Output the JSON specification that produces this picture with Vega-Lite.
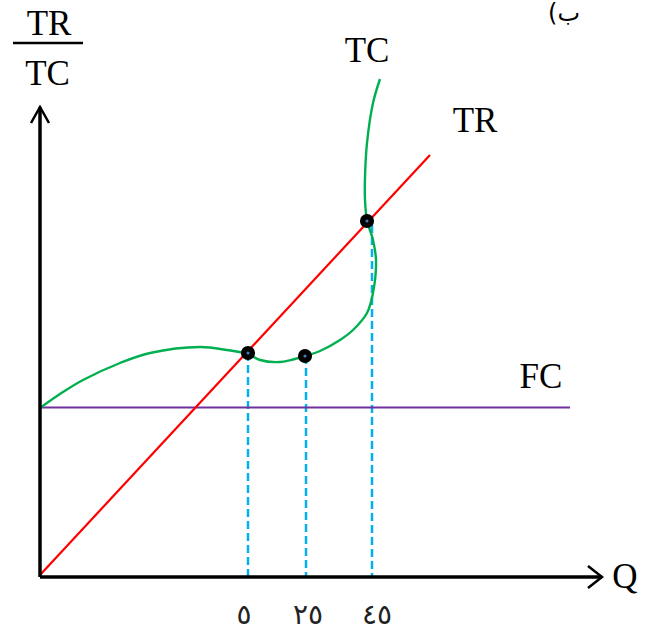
{
  "$schema": "https://vega.github.io/schema/vega-lite/v6.json",
  "width": 654,
  "height": 634,
  "padding": 0,
  "autosize": {"type": "none"},
  "background": "white",
  "config": {"view": {"stroke": null}},
  "datasets": {
    "axes": [
      {"seg": "y", "k": 0, "q": 0, "v": 0},
      {"seg": "y", "k": 1, "q": 0, "v": 47},
      {"seg": "x", "k": 0, "q": 0, "v": 0},
      {"seg": "x", "k": 1, "q": 56.2, "v": 0}
    ],
    "arrows": [
      {"seg": "ya", "k": 0, "q": -0.9, "v": 45.4},
      {"seg": "ya", "k": 1, "q": 0, "v": 47},
      {"seg": "ya", "k": 2, "q": 0.9, "v": 45.4},
      {"seg": "xa", "k": 0, "q": 54.8, "v": 1.1},
      {"seg": "xa", "k": 1, "q": 56.2, "v": 0},
      {"seg": "xa", "k": 2, "q": 54.8, "v": -1.1},
      {"seg": "frac", "k": 0, "q": -2.7, "v": 53.4},
      {"seg": "frac", "k": 1, "q": 4.3, "v": 53.4}
    ],
    "fc": [
      {"q": 0, "v": 16.95},
      {"q": 53, "v": 16.95}
    ],
    "tr": [
      {"q": 0, "v": 0.2},
      {"q": 39, "v": 42.2}
    ],
    "tc": [
      {"k": 0, "q": 0, "v": 16.9},
      {"k": 1, "q": 2, "v": 18.3},
      {"k": 2, "q": 4.3, "v": 19.7},
      {"k": 3, "q": 8, "v": 21.4},
      {"k": 4, "q": 11, "v": 22.4},
      {"k": 5, "q": 16, "v": 23},
      {"k": 6, "q": 18.7, "v": 22.7},
      {"k": 7, "q": 20.8, "v": 22.3},
      {"k": 8, "q": 22, "v": 21.7},
      {"k": 9, "q": 24, "v": 21.5},
      {"k": 10, "q": 26.5, "v": 22.1},
      {"k": 11, "q": 28, "v": 22.6},
      {"k": 12, "q": 30, "v": 23.7},
      {"k": 13, "q": 31.3, "v": 24.7},
      {"k": 14, "q": 32.7, "v": 26.4},
      {"k": 15, "q": 33.3, "v": 28.4},
      {"k": 16, "q": 33.6, "v": 31.7},
      {"k": 17, "q": 33.3, "v": 33.7},
      {"k": 18, "q": 32.7, "v": 35.7},
      {"k": 19, "q": 32.5, "v": 37.7},
      {"k": 20, "q": 32.5, "v": 40},
      {"k": 21, "q": 32.7, "v": 43.4},
      {"k": 22, "q": 33.3, "v": 47.4},
      {"k": 23, "q": 34, "v": 49.8}
    ],
    "drops": [
      {"line": "a", "q": 20.8, "v": 22.4},
      {"line": "a", "q": 20.8, "v": 0},
      {"line": "b", "q": 26.6, "v": 22.1},
      {"line": "b", "q": 26.6, "v": 0},
      {"line": "c", "q": 33.2, "v": 35.2},
      {"line": "c", "q": 33.2, "v": 0}
    ],
    "dots": [
      {"q": 20.8, "v": 22.4},
      {"q": 26.5, "v": 22.1},
      {"q": 32.7, "v": 35.6}
    ],
    "serifLabels": [
      {"text": "TR", "q": 0.9, "v": 54.2},
      {"text": "TC", "q": 0.75, "v": 49.2},
      {"text": "TC", "q": 32.7, "v": 51.5},
      {"text": "TR", "q": 43.5, "v": 44.5},
      {"text": "FC", "q": 50.1, "v": 18.9},
      {"text": "Q", "q": 58.5, "v": -1.1}
    ],
    "digitLabels": [
      {"text": "٥", "q": 20.4, "v": -4.7},
      {"text": "٢٥", "q": 26.8, "v": -4.7},
      {"text": "٤٥", "q": 33.7, "v": -4.7}
    ],
    "cornerLabel": [
      {"text": "(ب", "q": 52.4, "v": 55.6}
    ]
  },
  "encoding": {
    "x": {"field": "q", "type": "quantitative", "scale": {"domain": [-4, 61.4], "nice": false, "zero": false}, "axis": null},
    "y": {"field": "v", "type": "quantitative", "scale": {"domain": [-5.7, 57.7], "nice": false, "zero": false}, "axis": null}
  },
  "layer": [
    {
      "data": {"name": "drops"},
      "mark": {"type": "line", "color": "#00b0f0", "strokeWidth": 2.5, "strokeDash": [8, 4]},
      "encoding": {"detail": {"field": "line"}}
    },
    {
      "data": {"name": "fc"},
      "mark": {"type": "line", "color": "#7030a0", "strokeWidth": 2.2}
    },
    {
      "data": {"name": "tr"},
      "mark": {"type": "line", "color": "#ff0000", "strokeWidth": 2.2}
    },
    {
      "data": {"name": "tc"},
      "mark": {"type": "line", "color": "#00b050", "strokeWidth": 2.4, "interpolate": "catmull-rom"},
      "encoding": {"order": {"field": "k", "type": "quantitative"}}
    },
    {
      "data": {"name": "axes"},
      "mark": {"type": "line", "color": "black", "strokeWidth": 3.5},
      "encoding": {
        "detail": {"field": "seg"},
        "order": {"field": "k", "type": "quantitative"}
      }
    },
    {
      "data": {"name": "arrows"},
      "mark": {"type": "line", "color": "black", "strokeWidth": 2.5},
      "encoding": {
        "detail": {"field": "seg"},
        "order": {"field": "k", "type": "quantitative"}
      }
    },
    {
      "data": {"name": "dots"},
      "mark": {"type": "point", "filled": true, "color": "black", "opacity": 1, "size": 200}
    },
    {
      "data": {"name": "dots"},
      "mark": {"type": "point", "filled": true, "color": "#4a7ab8", "opacity": 1, "size": 10}
    },
    {
      "data": {"name": "serifLabels"},
      "mark": {"type": "text", "align": "center", "baseline": "alphabetic", "color": "black", "font": "Liberation Serif", "fontSize": 35},
      "encoding": {"text": {"field": "text"}}
    },
    {
      "data": {"name": "digitLabels"},
      "mark": {"type": "text", "align": "center", "baseline": "alphabetic", "color": "#222222", "font": "DejaVu Sans", "fontSize": 28},
      "encoding": {"text": {"field": "text"}}
    },
    {
      "data": {"name": "cornerLabel"},
      "mark": {"type": "text", "align": "center", "baseline": "alphabetic", "color": "black", "font": "DejaVu Sans", "fontSize": 24},
      "encoding": {"text": {"field": "text"}}
    }
  ]
}
